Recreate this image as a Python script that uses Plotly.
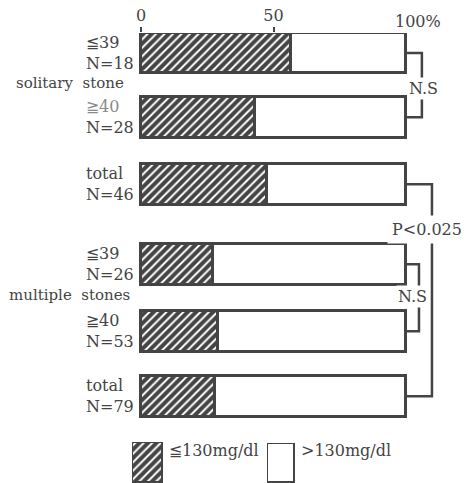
import plotly.graph_objects as go

# Share of patients at or below 130 mg/dl, by stone type and age group
row_labels = ["≦39", "≧40", "total", "≦39", "≧40", "total"]
row_counts = [18, 28, 46, 26, 53, 79]
pct_low = [56.5, 43, 47.5, 27, 29, 28]
pct_high = [100 - v for v in pct_low]
group_labels = ["solitary\u00a0\u00a0stone", "multiple\u00a0\u00a0stones"]
x_ticks = [0, 50]
x_tick_text = ["0", "50"]

# vertical slot of each row (rows are grouped, gaps between groups)
row_pos = [0, 0.99, 2.02, 3.25, 4.28, 5.28]
bar_w = 0.63

INK = "#444444"
FONT = "DejaVu Serif"
hatch = dict(shape="/", fgcolor=INK, bgcolor="white", size=6, solidity=0.68, fillmode="replace")

fig = go.Figure()
fig.add_trace(go.Bar(
    x=pct_low, y=row_pos, orientation="h", width=bar_w,
    marker=dict(color="white", pattern=hatch, line=dict(color=INK, width=3)),
    showlegend=False, hoverinfo="skip",
))
fig.add_trace(go.Bar(
    x=pct_high, y=row_pos, orientation="h", width=bar_w,
    marker=dict(color="white", line=dict(color=INK, width=3)),
    showlegend=False, hoverinfo="skip",
))

# significance brackets joining bar ends
def bracket(r0, r1, xb):
    fig.add_trace(go.Scatter(
        x=[100, xb, xb, 100], y=[row_pos[r0], row_pos[r0], row_pos[r1], row_pos[r1]],
        mode="lines", line=dict(color=INK, width=2.5), showlegend=False, hoverinfo="skip",
    ))

bracket(0, 1, 106.0)
bracket(2, 5, 109.8)
bracket(3, 4, 104.9)

# legend keys on their own tiny axes
fig.add_trace(go.Bar(
    x=[0], y=[1], width=1, xaxis="x2", yaxis="y2", cliponaxis=False,
    marker=dict(color="white", pattern=hatch, line=dict(color=INK, width=3)),
    showlegend=False, hoverinfo="skip",
))
fig.add_trace(go.Bar(
    x=[0], y=[1], width=1, xaxis="x3", yaxis="y3", cliponaxis=False,
    marker=dict(color="white", line=dict(color=INK, width=3)),
    showlegend=False, hoverinfo="skip",
))

anns = []
for i, (lab, n) in enumerate(zip(row_labels, row_counts)):
    col = "#8a8a8a" if i == 1 else INK
    anns.append(dict(
        x=-21.5, y=row_pos[i], xref="x", yref="y", xanchor="left", yanchor="middle",
        align="left", showarrow=False,
        text=f"<span style='color:{col}'>{lab}</span><br>N={n}",
        font=dict(family=FONT, size=16, color=INK),
    ))
anns.append(dict(x=-26.8, y=0.46, xref="x", yref="y", text=group_labels[0], showarrow=False,
                 font=dict(family=FONT, size=15, color=INK)))
anns.append(dict(x=-26.8, y=3.72, xref="x", yref="y", text=group_labels[1], showarrow=False,
                 font=dict(family=FONT, size=15, color=INK)))
anns.append(dict(x=100, y=-0.3077, xref="x", yref="y", xanchor="left", yanchor="bottom",
                 xshift=-13, yshift=0, text="100%", showarrow=False,
                 font=dict(family=FONT, size=16, color=INK)))
# bracket labels, white box hides the line behind the text
anns.append(dict(x=106.6, y=0.54, xref="x", yref="y", text="N.S", showarrow=False,
                 bgcolor="white", borderpad=1, font=dict(family=FONT, size=16, color=INK)))
anns.append(dict(x=107.9, y=2.71, xref="x", yref="y", text="P<0.025", showarrow=False,
                 bgcolor="white", borderpad=4, font=dict(family=FONT, size=16, color=INK)))
anns.append(dict(x=102.6, y=3.75, xref="x", yref="y", text="N.S", showarrow=False,
                 bgcolor="white", borderpad=1, font=dict(family=FONT, size=16, color=INK)))
anns.append(dict(x=167 / 464, y=0.0467, xref="paper", yref="paper", xanchor="left",
                 text="≦130mg/dl", showarrow=False, font=dict(family=FONT, size=16, color=INK)))
anns.append(dict(x=299 / 464, y=0.0467, xref="paper", yref="paper", xanchor="left",
                 text="&gt;130mg/dl", showarrow=False, font=dict(family=FONT, size=16, color=INK)))

hidden = dict(visible=False, fixedrange=True)
fig.update_layout(
    width=464, height=483,
    margin=dict(l=0, r=0, t=33, b=0),
    paper_bgcolor="white", plot_bgcolor="white",
    barmode="stack", bargap=0,
    xaxis=dict(range=[-53.21, 121.89], side="top", showgrid=False, zeroline=False,
               showline=False, tickvals=x_ticks, ticktext=x_tick_text, ticks="outside",
               ticklen=5, tickwidth=2, tickcolor=INK,
               tickfont=dict(family=FONT, size=16, color=INK)),
    yaxis=dict(range=[6.615, -0.3077], visible=False),
    xaxis2=dict(domain=[132 / 464, 163 / 464], range=[-0.5, 0.5], anchor="y2", **hidden),
    yaxis2=dict(domain=[0, 41 / 450], range=[0, 1], anchor="x2", **hidden),
    xaxis3=dict(domain=[267 / 464, 295 / 464], range=[-0.5, 0.5], anchor="y3", **hidden),
    yaxis3=dict(domain=[0, 40 / 450], range=[0, 1], anchor="x3", **hidden),
    annotations=anns,
)

fig.write_html("out.html")
